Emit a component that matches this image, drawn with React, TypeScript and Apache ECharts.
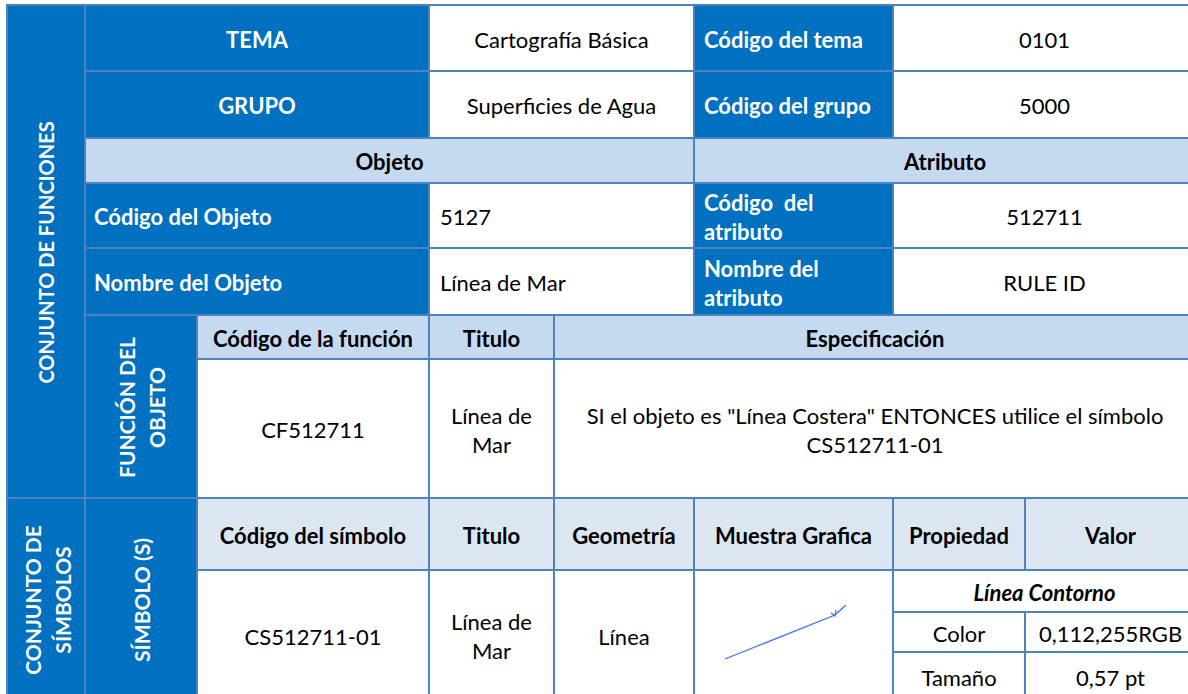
import React, { useEffect, useRef } from "react";
import * as echarts from "echarts";

// ---- table content ----
const topLabels = ["TEMA", "GRUPO"];
const topValues = ["Cartografía Básica", "Superficies de Agua"];
const codeLabels = ["Código del tema", "Código del grupo"];
const codeValues = ["0101", "5000"];
const sectionTitles = ["Objeto", "Atributo"];
const objectLabels = ["Código del Objeto", "Nombre del Objeto"];
const objectValues = ["5127", "Línea de Mar"];
const attributeLabels = ["Código  del\natributo", "Nombre del\natributo"];
const attributeValues = ["512711", "RULE ID"];
const sideLabels = ["CONJUNTO DE FUNCIONES", "CONJUNTO DE\nSÍMBOLOS"];
const subSideLabels = ["FUNCIÓN DEL\nOBJETO", "SÍMBOLO (S)"];
const functionHeaders = ["Código de la función", "Titulo", "Especificación"];
const functionRow = [
  "CF512711",
  "Línea de\nMar",
  'SI el objeto es "Línea Costera" ENTONCES utilice el símbolo\nCS512711-01',
];
const symbolHeaders = ["Código del símbolo", "Titulo", "Geometría", "Muestra Grafica", "Propiedad", "Valor"];
const symbolRow = ["CS512711-01", "Línea de\nMar", "Línea"];
const propertyTitle = "Línea Contorno";
const propertyNames = ["Color", "Tamaño"];
const propertyValues = ["0,112,255RGB", "0,57 pt"];

// ---- layout ----
const X = [7, 85, 197, 429, 554, 694, 893, 1025, 1196];
const Y = [5, 71, 138, 183, 248, 315, 359, 498, 570, 612, 652, 700];

const DARK = "#0070C0";
const LIGHT = "#C5D9F1";
const LIGHTER = "#DCE6F1";
const WHITE = "#FFFFFF";
const BORDER = "#4F81BD";
const FONT = "Lato, 'Open Sans', sans-serif";
const FS = 22;

function rect(x0: number, x1: number, y0: number, y1: number, fill: string) {
  return {
    type: "rect",
    shape: { x: x0, y: y0, width: x1 - x0, height: y1 - y0 },
    style: { fill, stroke: BORDER, lineWidth: 2 },
    z: 1,
  };
}

function text(
  t: string,
  x: number,
  y: number,
  opts: { color?: string; bold?: boolean; italic?: boolean; align?: string; rot?: number; lh?: number; fs?: number } = {}
) {
  return {
    type: "text",
    x,
    y: y + 1,
    rotation: opts.rot || 0,
    z: 5,
    style: {
      text: t,
      x: 0,
      y: 0,
      fill: opts.color || "#000000",
      fontSize: opts.fs || FS,
      fontFamily: FONT,
      fontWeight: opts.bold ? "bold" : "normal",
      fontStyle: opts.italic ? "italic" : "normal",
      textAlign: opts.align || "center",
      textVerticalAlign: "middle",
      align: opts.align || "center",
      verticalAlign: "middle",
      lineHeight: opts.lh || 29,
    },
  };
}

const cx = (a: number, b: number) => (a + b) / 2;

function buildGraphic() {
  const g: any[] = [];
  // side column
  g.push(rect(X[0], X[1], Y[0], Y[7], DARK));
  g.push(rect(X[0], X[1], Y[7], Y[11], DARK));
  g.push(text(sideLabels[0], cx(X[0], X[1]), cx(Y[0], Y[7]), { color: WHITE, bold: true, rot: Math.PI / 2, fs: 20 }));
  g.push(text(sideLabels[1], cx(X[0], X[1]) + 1, cx(Y[7], Y[11]), { color: WHITE, bold: true, rot: Math.PI / 2, lh: 30, fs: 21 }));

  // top two rows
  for (let i = 0; i < 2; i++) {
    const y0 = Y[i], y1 = Y[i + 1];
    g.push(rect(X[1], X[3], y0, y1, DARK));
    g.push(rect(X[3], X[5], y0, y1, WHITE));
    g.push(rect(X[5], X[6], y0, y1, DARK));
    g.push(rect(X[6], X[8], y0, y1, WHITE));
    g.push(text(topLabels[i], cx(X[1], X[3]), cx(y0, y1), { color: WHITE, bold: true }));
    g.push(text(topValues[i], cx(X[3], X[5]), cx(y0, y1)));
    g.push(text(codeLabels[i], X[5] + 10, cx(y0, y1), { color: WHITE, bold: true, align: "left" }));
    g.push(text(codeValues[i], cx(X[6], X[8]), cx(y0, y1)));
  }
  // section row
  g.push(rect(X[1], X[5], Y[2], Y[3], LIGHT));
  g.push(rect(X[5], X[8], Y[2], Y[3], LIGHT));
  g.push(text(sectionTitles[0], cx(X[1], X[5]), cx(Y[2], Y[3]), { bold: true }));
  g.push(text(sectionTitles[1], cx(X[5], X[8]), cx(Y[2], Y[3]), { bold: true }));
  // object rows
  for (let i = 0; i < 2; i++) {
    const y0 = Y[3 + i], y1 = Y[4 + i];
    g.push(rect(X[1], X[3], y0, y1, DARK));
    g.push(rect(X[3], X[5], y0, y1, WHITE));
    g.push(rect(X[5], X[6], y0, y1, DARK));
    g.push(rect(X[6], X[8], y0, y1, WHITE));
    g.push(text(objectLabels[i], X[1] + 9, cx(y0, y1), { color: WHITE, bold: true, align: "left" }));
    g.push(text(objectValues[i], X[3] + 11, cx(y0, y1), { align: "left" }));
    g.push(text(attributeLabels[i], X[5] + 10, cx(y0, y1), { color: WHITE, bold: true, align: "left" }));
    g.push(text(attributeValues[i], cx(X[6], X[8]), cx(y0, y1)));
  }
  // function block
  g.push(rect(X[1], X[2], Y[5], Y[7], DARK));
  g.push(text(subSideLabels[0], cx(X[1], X[2]), cx(Y[5], Y[7]), { color: WHITE, bold: true, rot: Math.PI / 2, lh: 30, fs: 21 }));
  const fCols = [[X[2], X[3]], [X[3], X[4]], [X[4], X[8]]];
  fCols.forEach(([a, b], i) => {
    g.push(rect(a, b, Y[5], Y[6], LIGHT));
    g.push(rect(a, b, Y[6], Y[7], WHITE));
    g.push(text(functionHeaders[i], cx(a, b), cx(Y[5], Y[6]), { bold: true }));
    g.push(text(functionRow[i], cx(a, b), cx(Y[6], Y[7])));
  });

  // symbol block
  g.push(rect(X[1], X[2], Y[7], Y[11], DARK));
  g.push(text(subSideLabels[1], cx(X[1], X[2]), cx(Y[7], Y[11]), { color: WHITE, bold: true, rot: Math.PI / 2, fs: 21 }));
  const sCols = [[X[2], X[3]], [X[3], X[4]], [X[4], X[5]], [X[5], X[6]], [X[6], X[7]], [X[7], X[8]]];
  sCols.forEach(([a, b], i) => {
    g.push(rect(a, b, Y[7], Y[8], LIGHTER));
    g.push(text(symbolHeaders[i], cx(a, b), cx(Y[7], Y[8]), { bold: true }));
  });
  for (let i = 0; i < 4; i++) {
    const [a, b] = sCols[i];
    g.push(rect(a, b, Y[8], Y[11], WHITE));
    if (i < 3) g.push(text(symbolRow[i], cx(a, b), cx(Y[8], Y[11])));
  }
  // property sub table
  g.push(rect(X[6], X[8], Y[8], Y[9], WHITE));
  g.push(text(propertyTitle, cx(X[6], X[8]), cx(Y[8], Y[9]), { bold: true, italic: true }));
  for (let i = 0; i < 2; i++) {
    const y0 = Y[9 + i], y1 = Y[10 + i];
    g.push(rect(X[6], X[7], y0, y1, WHITE));
    g.push(rect(X[7], X[8], y0, y1, WHITE));
    g.push(text(propertyNames[i], cx(X[6], X[7]), cx(y0, y1)));
    g.push(text(propertyValues[i], cx(X[7], X[8]), cx(y0, y1)));
  }
  // graphic sample (symbol line), positioned relative to its cell
  const sx = X[5], sy = Y[8];
  g.push({
    type: "polyline",
    z: 6,
    shape: { points: [[sx + 31, sy + 89], [sx + 141, sy + 45], [sx + 152, sy + 35]] },
    style: { stroke: "#3F6BFF", lineWidth: 1.3, fill: null },
  });
  g.push({
    type: "polyline",
    z: 6,
    shape: { points: [[sx + 137, sy + 43], [sx + 141, sy + 46], [sx + 142, sy + 40]] },
    style: { stroke: "#3F6BFF", lineWidth: 1.2, fill: null },
  });
  return g;
}

export default function App() {
  const ref = useRef<HTMLDivElement>(null);
  useEffect(() => {
    if (!ref.current) return;
    const chart = echarts.init(ref.current, null, { renderer: "svg" });
    chart.setOption({
      animation: false,
      backgroundColor: "#FFFFFF",
      graphic: buildGraphic(),
    });
    return () => chart.dispose();
  }, []);
  return (
    <div
      ref={ref}
      style={{ position: "absolute", left: 0, top: 0, width: 1188, height: 694, background: "#fff" }}
    />
  );
}
